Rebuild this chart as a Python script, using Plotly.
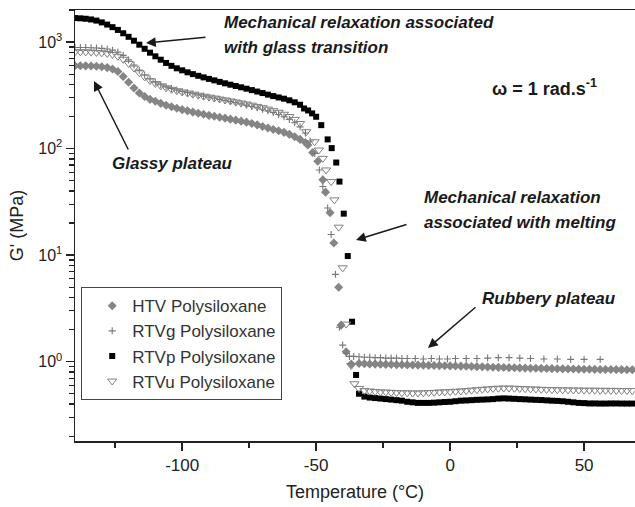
import plotly.graph_objects as go

# ---------------- data ----------------
T_glass = [-140, -138, -136, -134, -132, -130, -128, -126, -124, -122, -120, -118, -116, -114,
           -112, -110, -108, -106, -104, -102, -100, -98, -96, -94, -92, -90, -88, -86, -84,
           -82, -80, -78, -76, -74, -72, -70, -68, -66, -64, -62, -60, -58, -56]
T_rubber = [-34, -32, -30, -28, -26, -24, -22, -20, -18, -16, -14, -12, -10, -8, -6, -4, -2,
            0, 2, 4, 6, 8, 10, 12, 14, 16, 18, 20, 22, 24, 26, 28, 30, 32, 34, 36, 38, 40,
            42, 44, 46, 48, 50, 52, 54, 56, 58, 60, 62, 64, 66, 68]

# HTV Polysiloxane
htv_glass = [600, 600, 598, 596, 592, 586, 576, 558, 530, 475, 420, 370, 332, 308,
             290, 278, 266, 255, 247, 239, 232, 226, 220, 215, 210, 205, 201, 197, 193,
             189, 185, 181, 177, 172, 167, 161, 156, 151, 147, 142, 136, 129, 122]
htv_trans_T = [-54, -53.1, -51.3, -49.4, -47.5, -46.5, -44.8, -43.4, -41.6, -40.7, -38.8, -36.9]
htv_trans = [114, 108, 92, 76, 51, 39, 25, 13, 5.0, 2.2, 1.24, 0.95]
htv_rubber = [0.96, 0.955, 0.95, 0.948, 0.945, 0.942, 0.94, 0.937, 0.935, 0.932, 0.93, 0.928,
              0.925, 0.922, 0.92, 0.918, 0.915, 0.912, 0.91, 0.907, 0.904, 0.90, 0.897, 0.894,
              0.89, 0.887, 0.884, 0.881, 0.878, 0.875, 0.873, 0.87, 0.868, 0.866, 0.864, 0.862,
              0.86, 0.858, 0.856, 0.854, 0.852, 0.85, 0.848, 0.847, 0.846, 0.845, 0.844, 0.843,
              0.842, 0.841, 0.84, 0.84]

# RTVg Polysiloxane
rtvg_glass = [890, 890, 888, 885, 880, 872, 860, 840, 805, 750, 680, 610, 545, 490,
              450, 420, 398, 380, 366, 354, 344, 335, 327, 319, 311, 304, 297, 290, 283,
              276, 270, 263, 256, 249, 242, 234, 226, 218, 209, 199, 188, 175, 160]
rtvg_trans_T = [-54, -52.2, -50.5, -48.8, -47.5, -45.7, -44.4, -42.8, -41.3, -40.1, -38.8, -37.6]
rtvg_trans = [140, 118, 90, 63, 44, 27.7, 15.6, 6.6, 2.1, 1.43, 1.2, 1.12]
rtvg_rubber_T = [-36, -34, -32, -30, -28, -26, -24, -22, -20, -18, -16, -13, -10, -7, -4, -1,
                 2, 6, 10, 14, 18, 22, 26, 30, 35, 40, 45, 50, 56]
rtvg_rubber = [1.12, 1.11, 1.10, 1.10, 1.09, 1.09, 1.08, 1.08, 1.08, 1.07, 1.07, 1.07, 1.06,
               1.07, 1.06, 1.06, 1.07, 1.07, 1.07, 1.08, 1.09, 1.09, 1.08, 1.07, 1.06, 1.06,
               1.05, 1.05, 1.05]

# RTVp Polysiloxane
rtvp_glass = [1680, 1670, 1655, 1630, 1590, 1530, 1460, 1380, 1300, 1210, 1120, 1030, 945, 865,
              795, 735, 683, 637, 598, 567, 543, 520, 500, 482, 466, 451, 437, 423, 410,
              398, 387, 376, 365, 354, 343, 332, 321, 311, 302, 294, 284, 272, 258]
rtvp_trans_T = [-54.5, -53, -51.5, -50, -48.1, -45.7, -44.2, -42.5, -41.3, -39.7, -38.2, -36.6, -35.1]
rtvp_trans = [238, 228, 214, 199, 166, 122, 101, 74, 49, 24.5, 9.8, 2.37, 0.75]
rtvp_rubber = [0.50, 0.47, 0.46, 0.455, 0.45, 0.445, 0.44, 0.435, 0.43, 0.42, 0.415, 0.41,
               0.41, 0.41, 0.412, 0.415, 0.418, 0.42, 0.425, 0.43, 0.432, 0.435, 0.438, 0.44,
               0.442, 0.445, 0.45, 0.452, 0.45, 0.448, 0.445, 0.443, 0.44, 0.438, 0.436, 0.433,
               0.43, 0.428, 0.425, 0.42, 0.415, 0.41, 0.408, 0.405, 0.405, 0.404, 0.404, 0.405,
               0.405, 0.404, 0.404, 0.404]

# RTVu Polysiloxane
rtvu_glass = [810, 810, 808, 805, 800, 793, 782, 765, 735, 690, 630, 570, 515, 470,
              435, 408, 388, 372, 360, 349, 340, 332, 324, 317, 310, 304, 298, 292, 286,
              280, 274, 268, 262, 256, 249, 242, 235, 227, 219, 210, 200, 188, 172]
rtvu_trans_T = [-53.7, -50.6, -49, -47.5, -46.3, -44.4, -43.2, -41.6, -40.1, -38.8, -36.9, -35.7]
rtvu_trans = [144, 116, 97, 81, 63, 49, 33, 18.3, 7.6, 2.25, 0.92, 0.62]
rtvu_rubber = [0.56, 0.535, 0.53, 0.525, 0.52, 0.518, 0.515, 0.512, 0.51, 0.51, 0.508, 0.508,
               0.51, 0.512, 0.515, 0.518, 0.52, 0.523, 0.527, 0.53, 0.535, 0.54, 0.545, 0.55,
               0.555, 0.56, 0.563, 0.565, 0.565, 0.563, 0.56, 0.557, 0.555, 0.553, 0.55, 0.548,
               0.546, 0.545, 0.544, 0.543, 0.542, 0.541, 0.54, 0.54, 0.539, 0.538, 0.538, 0.537,
               0.537, 0.536, 0.536, 0.535]

y_tickvals = [1, 10, 100, 1000]
y_ticktext = ["10<sup>0</sup>", "10<sup>1</sup>", "10<sup>2</sup>", "10<sup>3</sup>"]
x_tickvals = [-100, -50, 0, 50]
x_ticktext = ["-100", "-50", "0", "50"]
x_minor = [-125, -75, -25, 25]

FONT = "Arial, Liberation Sans, Helvetica, sans-serif"

fig = go.Figure()

fig.add_trace(go.Scatter(
    name="HTV Polysiloxane", mode="markers",
    x=T_glass + htv_trans_T + T_rubber, y=htv_glass + htv_trans + htv_rubber,
    marker=dict(symbol="diamond", size=7, color="#858585", line=dict(width=0))))
fig.add_trace(go.Scatter(
    name="RTVg Polysiloxane", mode="markers",
    x=T_glass + rtvg_trans_T + rtvg_rubber_T, y=rtvg_glass + rtvg_trans + rtvg_rubber,
    marker=dict(symbol="cross-thin", size=5, color="#777777", line=dict(width=1.1, color="#777777"))))
fig.add_trace(go.Scatter(
    name="RTVp Polysiloxane", mode="markers",
    x=T_glass + rtvp_trans_T + T_rubber, y=rtvp_glass + rtvp_trans + rtvp_rubber,
    marker=dict(symbol="square", size=6, color="#000000", line=dict(width=0))))
fig.add_trace(go.Scatter(
    name="RTVu Polysiloxane", mode="markers",
    x=T_glass + rtvu_trans_T + T_rubber, y=rtvu_glass + rtvu_trans + rtvu_rubber,
    marker=dict(symbol="triangle-down-open", size=8, color="#808080", line=dict(width=1, color="#808080"))))

# plot area in page pixels: x 75..635, y 10..441 (body margin removed below)
L, R, TOP, BOT = 75, 635, 10, 441
W, H = 635, 507
def px(x):
    return (x - L) / (R - L)
def py(y):
    return (BOT - y) / (BOT - TOP)

ann_font = dict(family=FONT, size=17, color="#1a1a1a", weight="bold", style="italic")
texts = [
    ("Mechanical relaxation associated", 222, 22),
    ("with glass transition", 222, 48),
    ("Glassy plateau", 110, 163),
    ("Mechanical relaxation", 422, 197),
    ("associated with melting", 422, 222),
    ("Rubbery plateau", 480, 298),
]
for t, x, y in texts:
    fig.add_annotation(text=t, xref="paper", yref="paper", x=px(x), y=py(y),
                       xanchor="left", yanchor="middle", showarrow=False, font=ann_font)

fig.add_annotation(text="ω = 1 rad.s<sup>-1</sup>", xref="paper", yref="paper",
                   x=px(490), y=py(88), xanchor="left", yanchor="middle", showarrow=False,
                   font=dict(family=FONT, size=18, color="#1a1a1a", weight="bold"))

arrows = [
    (146, 43, 61, -6),
    (94, 81, 35, 70),
    (356, 240, 52, -16),
    (428, 348, 49, -42),
]
for hx, hy, ax, ay in arrows:
    fig.add_annotation(text="", xref="paper", yref="paper", x=px(hx), y=py(hy),
                       ax=ax, ay=ay, axref="pixel", ayref="pixel",
                       showarrow=True, arrowhead=2, arrowsize=1.3, arrowwidth=1.5,
                       arrowcolor="#1a1a1a", standoff=0, startstandoff=0)

axis_common = dict(showline=True, linecolor="#222222", linewidth=1.5, ticks="outside",
                   tickcolor="#222222", tickwidth=1.5, ticklen=8, showgrid=False,
                   zeroline=False, tickfont=dict(family=FONT, size=17, color="#222222"))

fig.update_xaxes(range=[-140, 69], tickvals=x_tickvals, ticktext=x_ticktext, mirror=True,
                 minor=dict(tickvals=x_minor, ticks="outside", ticklen=5, tickwidth=1.5,
                            tickcolor="#222222"),
                 title=dict(text="Temperature (°C)", font=dict(family=FONT, size=18, color="#222222"),
                            standoff=11),
                 **axis_common)
y_minor = [m * d for d in (0.1, 1, 10, 100) for m in range(2, 10)] + [2000]
fig.update_yaxes(type="log", range=[-0.745, 3.301], tickvals=y_tickvals, ticktext=y_ticktext,
                 minor=dict(tickvals=y_minor, ticks="outside", ticklen=5, tickwidth=1.2,
                            tickcolor="#222222"),
                 title=dict(text="G' (MPa)", font=dict(family=FONT, size=18, color="#222222"),
                            standoff=10),
                 **axis_common)
fig.update_yaxes(tickfont=dict(size=16))

fig.update_layout(
    width=W, height=H,
    margin=dict(l=L, r=W - R, t=TOP, b=H - BOT, autoexpand=False),
    paper_bgcolor="white", plot_bgcolor="white",
    font=dict(family=FONT, color="#222222"),
    showlegend=True,
    legend=dict(x=px(81), y=py(287), xanchor="left", yanchor="top",
                bgcolor="white", bordercolor="#444444", borderwidth=1.2,
                font=dict(family=FONT, size=17, color="#333333"),
                indentation=10, itemsizing="trace"),
)

fig.write_html("out.html",
               config={"displayModeBar": False, "staticPlot": True},
               post_script="document.body.style.margin='0';"
                           "document.documentElement.style.overflow='hidden';")
